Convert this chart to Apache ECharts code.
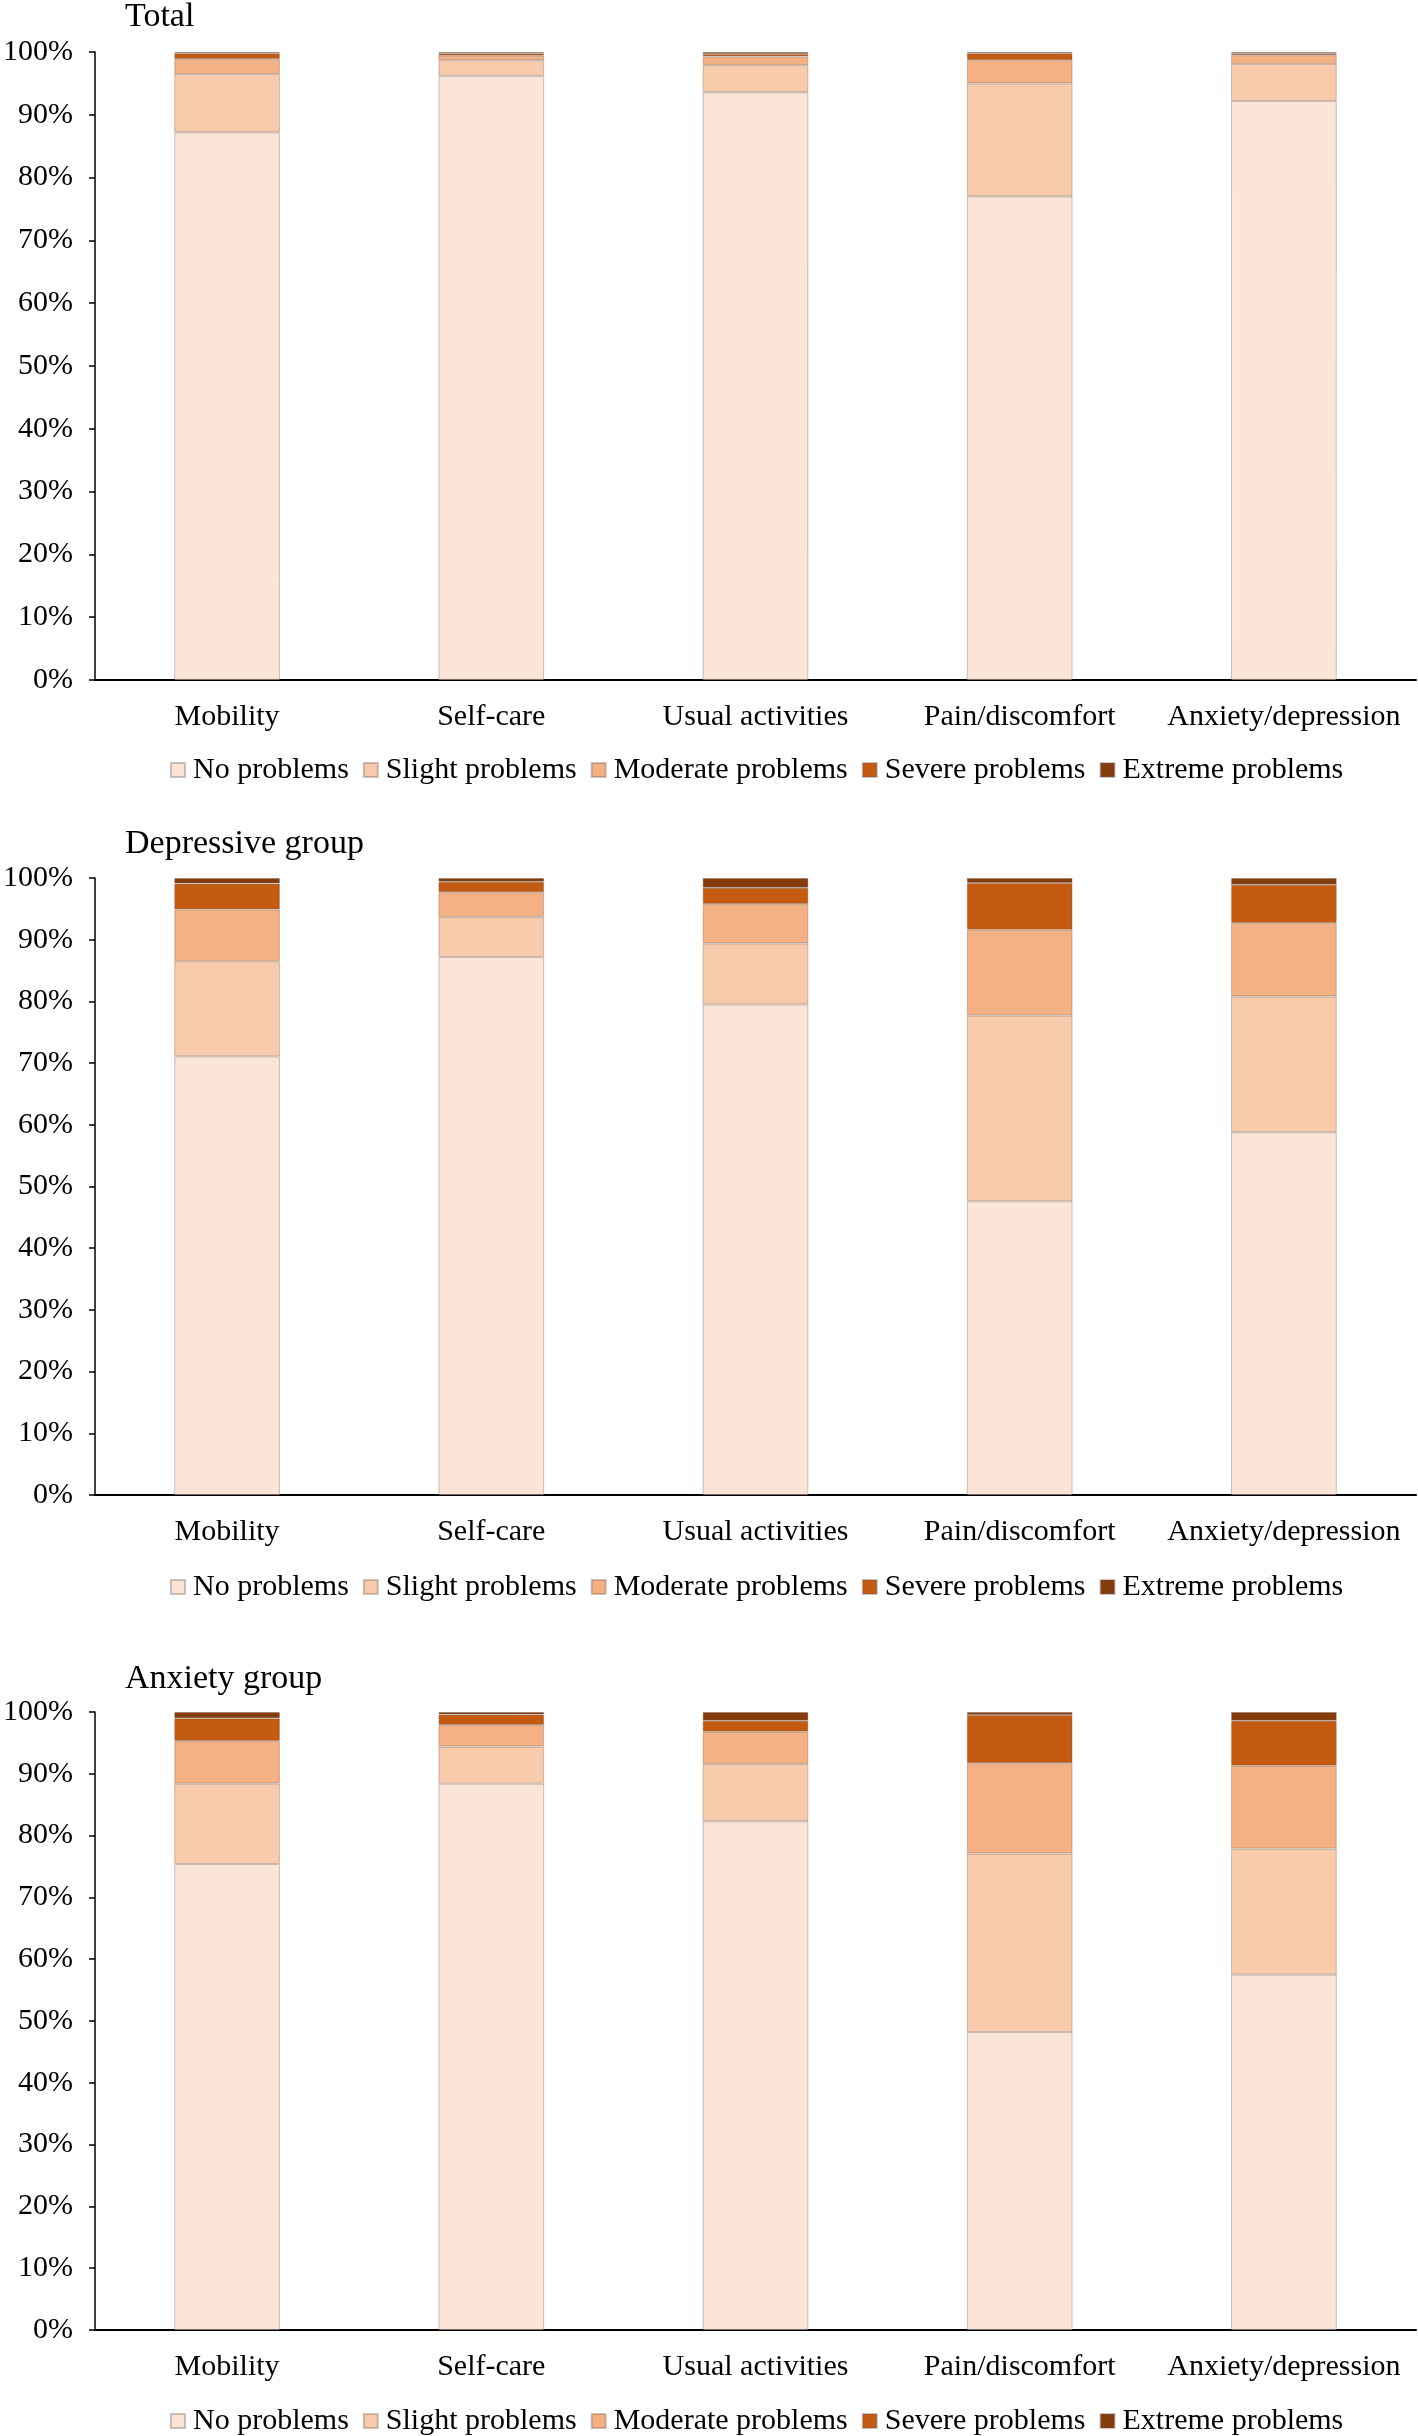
<!DOCTYPE html>
<html>
<head>
<meta charset="utf-8">
<script src="https://cdn.jsdelivr.net/npm/echarts@6/dist/echarts.min.js"></script>
<style>html,body{margin:0;padding:0;background:#fff}#c{width:1418px;height:2436px}</style>
</head>
<body>
<div id="c"></div>
<script>
const categories = ['Mobility', 'Self-care', 'Usual activities', 'Pain/discomfort', 'Anxiety/depression'];
const levels = ['No problems', 'Slight problems', 'Moderate problems', 'Severe problems', 'Extreme problems'];
const panelTitles = ['Total', 'Depressive group', 'Anxiety group'];
const yTicks = [0, 10, 20, 30, 40, 50, 60, 70, 80, 90, 100];

// Total
const totalNo       = [87.2, 96.2, 93.6, 77.0, 92.2];
const totalSlight   = [9.3, 2.5, 4.3, 18.0, 5.9];
const totalModerate = [2.4, 0.7, 1.4, 3.7, 1.4];
const totalSevere   = [0.9, 0.4, 0.4, 1.1, 0.3];
const totalExtreme  = [0.2, 0.2, 0.3, 0.2, 0.2];
// Depressive group
const depNo       = [71.1, 87.2, 79.5, 47.6, 58.8];
const depSlight   = [15.4, 6.5, 9.9, 30.1, 22.0];
const depModerate = [8.4, 4.0, 6.4, 13.9, 11.9];
const depSevere   = [4.2, 1.7, 2.6, 7.6, 6.2];
const depExtreme  = [0.9, 0.6, 1.6, 0.8, 1.1];
// Anxiety group
const anxNo       = [75.4, 88.4, 82.3, 48.2, 57.5];
const anxSlight   = [13.0, 6.0, 9.3, 28.9, 20.4];
const anxModerate = [6.9, 3.5, 5.2, 14.6, 13.4];
const anxSevere   = [3.7, 1.7, 1.8, 7.8, 7.3];
const anxExtreme  = [1.0, 0.4, 1.4, 0.5, 1.4];

const groups = [
  [totalNo, totalSlight, totalModerate, totalSevere, totalExtreme],
  [depNo, depSlight, depModerate, depSevere, depExtreme],
  [anxNo, anxSlight, anxModerate, anxSevere, anxExtreme]
];
const colors = ['#FBE5D6', '#F8CBAD', '#F4B183', '#C55A11', '#843C0C'];
const FONT = '"Liberation Serif", "Times New Roman", serif';

const grids = [
  {left: 93, right: 2, top: 52, height: 628},
  {left: 93, right: 2, top: 878, height: 617},
  {left: 93, right: 2, top: 1712, height: 618}
];
const titleTops = [0, 827, 1662];
const legendTops = [755, 1572, 2406];

const option = {
  animation: false,
  backgroundColor: '#fff',
  title: panelTitles.map((t, i) => ({
    text: t, left: 125, top: titleTops[i], padding: 0,
    textStyle: {fontFamily: FONT, fontSize: 34, fontWeight: 'normal', color: '#000'}
  })),
  legend: legendTops.map(top => ({
    data: levels, left: 170, top: top, padding: 0,
    itemWidth: 14, itemHeight: 14, itemGap: 14, icon: 'rect',
    textStyle: {fontFamily: FONT, fontSize: 30, color: '#000', padding: [0, 0, 0, 3]},
    selectedMode: false
  })),
  grid: grids,
  xAxis: grids.map((g, i) => ({
    type: 'category', gridIndex: i, data: categories,
    axisLine: {show: true, lineStyle: {color: '#000', width: 2}},
    axisTick: {show: false},
    axisLabel: {fontFamily: FONT, fontSize: 30, color: '#000', margin: 22, interval: 0}
  })),
  yAxis: grids.map((g, i) => ({
    type: 'value', gridIndex: i, min: yTicks[0], max: yTicks[yTicks.length - 1], interval: 10,
    axisLine: {show: true, lineStyle: {color: '#000', width: 1.5}},
    axisTick: {show: true, length: 6, lineStyle: {color: '#000', width: 1.5}},
    splitLine: {show: false},
    axisLabel: {formatter: '{value}%', fontFamily: FONT, fontSize: 30, color: '#000', margin: 22}
  })),
  series: []
};

groups.forEach((arrs, gi) => {
  arrs.forEach((vals, li) => {
    option.series.push({
      name: levels[li], type: 'bar', stack: 'g' + gi,
      xAxisIndex: gi, yAxisIndex: gi,
      barWidth: '40%',
      data: vals,
      itemStyle: {color: colors[li], borderColor: 'rgba(110,90,80,0.35)', borderWidth: 1}
    });
  });
});

const chart = echarts.init(document.getElementById('c'), null, {renderer: 'canvas'});
chart.setOption(option);
</script>
</body>
</html>
